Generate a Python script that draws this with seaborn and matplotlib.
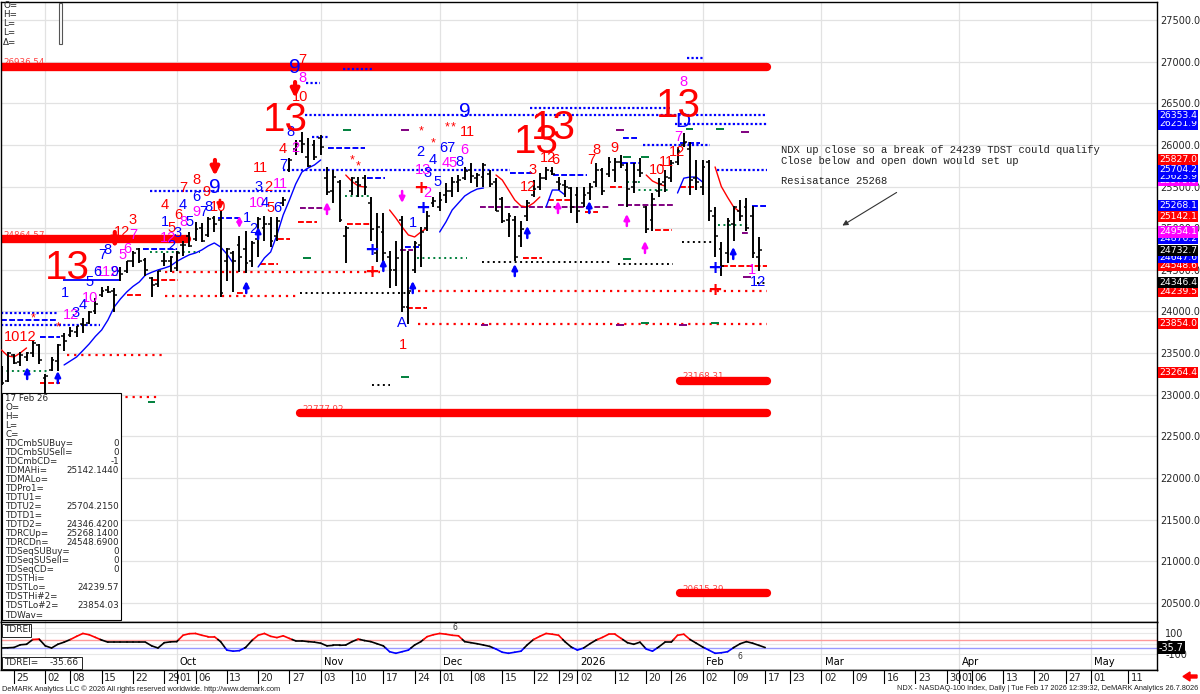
import numpy as np
import pandas as pd
import matplotlib
matplotlib.use('Agg')
import matplotlib.pyplot as plt
import matplotlib.transforms as mtransforms
from matplotlib.patches import Rectangle, FancyArrow
from matplotlib.collections import LineCollection
import seaborn as sns

sns.set_style('white')
plt.rcParams['font.family'] = ['DejaVu Sans']

RED, BLUE, MAG, PUR, GRN = '#ff0000', '#0000ff', '#ff00ff', '#800080', '#00803c'
CNT = ['Liberation Sans', 'DejaVu Sans']

# ---------------- data ----------------
holidays = ['2025-09-01', '2025-11-27', '2025-12-25', '2026-01-01',
            '2026-01-19', '2026-02-16', '2026-04-03']
cal = pd.bdate_range('2025-08-21', '2026-05-15', freq='C', holidays=holidays)

highs = [23350, 23510, 23490, 23510, 23510, 23650, 23610, 23250, 23450, 23610,
         23740, 23810, 23830, 23920, 24010, 24160, 24290, 24310, 24280, 24530,
         24610, 24730, 24760, 24640, 24410, 24490, 24700, 24670, 24730, 24850,
         24950, 25070, 25060, 25130, 25150, 25210, 24760, 24730, 24910, 24970,
         24850, 25130, 25150, 25130, 25130, 25370, 25840, 26060, 26150, 26080,
         26060, 26120, 25730, 25700, 25580, 25030, 25610, 25610, 25640, 25370,
         25180, 25180, 24730, 24850, 25150, 24730, 24850, 25010, 25210, 25370,
         25430, 25540, 25610, 25640, 25730, 25780, 25660, 25780, 25700, 25600,
         25370, 25180, 25150, 25090, 25340, 25580, 25660, 25730, 25730, 25610,
         25580, 25490, 25490, 25490, 25540, 25780, 25720, 25850, 25840, 25880,
         25780, 25780, 25840, 25270, 25420, 25600, 25700, 25820, 25970, 26140,
         26030, 25820, 25820, 25820, 25250, 24830, 25120, 25270, 25340, 25360,
         25270, 24890]
lows = [23120, 23150, 23370, 23350, 23410, 23450, 23370, 23010, 23290, 23290,
        23530, 23690, 23690, 23740, 23850, 23970, 24170, 24220, 23990, 24370,
        24460, 24530, 24580, 24430, 24170, 24290, 24550, 24470, 24490, 24670,
        24770, 24850, 24830, 24890, 24950, 24170, 24370, 24230, 24470, 24460,
        24530, 24650, 24850, 24770, 24850, 25270, 25670, 25880, 25900, 25730,
        25820, 25880, 25400, 25300, 25070, 24580, 25400, 25370, 25400, 24850,
        24590, 24530, 24280, 24310, 23990, 23850, 24460, 24530, 24970, 25250,
        25210, 25300, 25370, 25430, 25580, 25540, 25490, 25490, 25490, 25210,
        25060, 24890, 24610, 24770, 25090, 25370, 25460, 25580, 25640, 25460,
        25370, 25180, 25060, 25250, 25340, 25490, 25400, 25610, 25550, 25720,
        25250, 25420, 25610, 24940, 24970, 25370, 25430, 25550, 25760, 25970,
        25400, 25460, 25400, 25090, 24650, 24430, 24580, 24850, 25090, 24970,
        24640, 24490]
opens = [23300, 23160, 23480, 23390, 23450, 23500, 23600, 23200, 23300, 23400,
         23700, 23720, 23750, 23850, 23860, 24000, 24200, 24260, 24250, 24480,
         24480, 24600, 24750, 24620, 24400, 24330, 24600, 24600, 24520, 24800,
         24900, 24870, 25000, 24920, 25120, 25100, 24600, 24700, 24800, 24750,
         24600, 24870, 25000, 25050, 24900, 25300, 25700, 25950, 26050, 25850,
         26000, 26080, 25600, 25450, 25550, 24900, 25450, 25550, 25600, 25300,
         24700, 24950, 24650, 24500, 25100, 24050, 24500, 24800, 25000, 25300,
         25250, 25400, 25450, 25550, 25600, 25700, 25600, 25620, 25650, 25550,
         25350, 25100, 25100, 24900, 25150, 25400, 25500, 25600, 25690, 25560,
         25520, 25480, 25400, 25300, 25420, 25550, 25700, 25650, 25700, 25800,
         25700, 25500, 25700, 25250, 25100, 25450, 25550, 25600, 25800, 26000,
         25950, 25600, 25500, 25800, 25150, 24750, 24700, 25050, 25200, 25250,
         25150, 24650]
closes = [23140, 23500, 23380, 23480, 23500, 23620, 23420, 23230, 23420, 23600,
          23650, 23760, 23820, 23840, 23990, 24090, 24240, 24230, 24200, 24450,
          24600, 24700, 24610, 24500, 24320, 24480, 24610, 24650, 24700, 24800,
          24790, 24990, 24850, 25110, 25050, 24220, 24750, 24600, 24650, 24580,
          24820, 25110, 25050, 24850, 25080, 25340, 25820, 26010, 26010, 25750,
          25860, 25970, 25440, 25620, 25100, 25000, 25600, 25520, 25500, 24990,
          25010, 24700, 24500, 24640, 24050, 24240, 24820, 24950, 25150, 25330,
          25340, 25450, 25560, 25580, 25690, 25630, 25640, 25760, 25530, 25200,
          25080, 25140, 24650, 24990, 25300, 25470, 25600, 25700, 25650, 25530,
          25500, 25250, 25200, 25400, 25500, 25700, 25450, 25790, 25800, 25760,
          25470, 25550, 25660, 24990, 25350, 25530, 25620, 25780, 25930, 26030,
          25580, 25550, 25740, 25200, 24900, 24550, 25080, 25250, 25150, 25000,
          24700, 24733]
tdrei = [-40, -38, -35, -10, -5, 40, 44, -20, -40, -5,
         15, 40, 70, 97, 85, 60, 35, 15, 15, 15,
         15, 15, 15, 15, -20, -40, 10, 18, 20, 80,
         95, 97, 80, 67, 67, 20, -60, -70, -65, -35,
         30, 80, 97, 70, 58, 75, 50, 27, 27, 20,
         15, 5, -20, -15, -15, -12, 20, 44, 30, 20,
         0, -20, -75, -90, -75, -60, -12, 20, 67, 85,
         97, 90, 80, 75, 20, 10, 0, -12, -25, -50,
         -80, -90, -80, -70, -10, 40, 70, 97, 90, 80,
         20, -30, -60, -40, 0, 35, 60, 90, 90, 50,
         10, -5, 15, -50, -70, -30, 15, 15, 80, 90,
         40, 5, -30, -60, -90, -85, -75, -35, 0, 20,
         5, -15, -35.66]

# moving-average style curves: (start bar, values, colour)
ma_curves = [
    (10, [23357, 23405, 23453, 23530, 23609, 23700, 23777, 23897, 24053, 24150,
          24233, 24300, 24353, 24437, 24470, 24498, 24520, 24546, 24600, 24642,
          24680, 24702, 24738, 24786, 24822, 24774, 24690, 24582], BLUE),
    (41, [24534, 24642, 24714, 24918, 25158, 25338, 25530, 25675, 25723, 25759, 25819], BLUE),
    (70, [24954, 25074, 25218, 25302, 25386, 25434, 25470, 25482], BLUE),
    (87, [25254, 25458, 25458, 25400], BLUE),
    (108, [25422, 25600, 25614, 25614, 25554], BLUE),
    (0, [23537, 23465, 23453, 23501, 23561], RED),
    (55, [25638, 25560, 25506, 25494], RED),
    (62, [25218, 25122, 25014, 24918, 24894, 24954, 25002], RED),
    (79, [25638, 25578, 25458, 25338, 25266, 25254, 25302, 25374], RED),
    (103, [25638, 25566, 25530, 25506], RED),
    (114, [25735, 25500, 25370, 25250, 25194], RED),
]

# thick TDST-style levels: (price, from bar, to bar)
thick_levels = [(26936.54, -0.1, 122.3), (24864.57, -0.1, 29.6), (23168.31, 108.4, 122.3),
                (22777.92, 47.7, 122.3), (20615.39, 108.4, 122.3)]

# horizontal level segments: (from bar, to bar, price, style)
levels = [
    (48.5, 122.3, 26353.4, 'bdot'), (107.6, 122.3, 26251.9, 'bdot'), (84.4, 106.8, 26443, 'bdot'),
    (45.0, 81.2, 25704.2, 'bdot'), (114.3, 122.3, 25704.2, 'bdot'), (23.7, 46.1, 25446, 'bdot'),
    (-0.1, 9.0, 23981, 'bdot'), (-0.1, 15.7, 23837, 'bdot'), (49.6, 52.2, 26095, 'bdot'),
    (102.5, 113.2, 25999, 'bdot'), (48.6, 50.9, 26743, 'bdot'), (54.6, 59.3, 26911, 'bdot'),
    (109.5, 112.1, 27044, 'bdot'),
    (-0.1, 9.0, 23897, 'bdash'), (34.6, 38.1, 25122, 'bdash'), (52.2, 58.1, 25963, 'bdash'),
    (58.4, 61.3, 25603, 'bdash'), (6.2, 9.3, 23693, 'bdash'), (22.6, 28.0, 24750, 'bdash'),
    (64.5, 66.9, 24774, 'bdash'), (81.2, 84.9, 25663, 'bdash'), (88.1, 93.5, 25639, 'bdash'),
    (99.1, 102.0, 25783, 'bdash'), (99.3, 101.5, 26083, 'bdash'), (108.4, 111.6, 26023, 'bdash'),
    (119.9, 122.3, 25268.1, 'bdash'), (9.8, 19.0, 24377, 'bsolid'),
    (66.5, 122.3, 24239.5, 'rdot'), (66.5, 122.3, 23854.0, 'rdot'), (26.1, 47.7, 24185, 'rdot'),
    (26.1, 60.5, 24473, 'rdot'), (10.5, 26.1, 23477, 'rdot'), (15.3, 25.3, 22972, 'rdot'),
    (6.2, 9.3, 23141, 'rdash'), (20.1, 22.6, 24197, 'rdash'), (24.2, 28.2, 24378, 'rdash'),
    (47.4, 50.4, 25074, 'rdash'), (55.2, 59.2, 25050, 'rdash'), (41.3, 44.2, 24570, 'rdash'),
    (44.2, 46.1, 24870, 'rdash'), (37.6, 39.2, 24221, 'rdash'), (83.3, 86.3, 24642, 'rdash'),
    (87.3, 91.1, 25338, 'rdash'), (93.2, 95.3, 25194, 'rdash'), (104.4, 107.1, 24978, 'rdash'),
    (97.2, 99.1, 25494, 'rdash'), (108.4, 111.1, 25494, 'rdash'), (115.1, 122.3, 24548.6, 'rdash'),
    (64.8, 68.0, 24041, 'rdash'),
    (47.7, 65.3, 24221, 'kdot'), (76.8, 97.2, 24594, 'kdot'), (98.5, 107.3, 24570, 'kdot'),
    (108.7, 114.0, 24834, 'kdot'), (59.2, 62.1, 23116, 'kdot'), (120.7, 122.3, 24346.4, 'kdot'),
    (23.7, 31.7, 24714, 'gdot'), (66.4, 74.4, 24642, 'gdot'), (54.9, 59.2, 25386, 'gdot'),
    (-0.1, 7.8, 23284, 'gdot'), (114.5, 119.6, 25038, 'gdot'), (100.9, 106.8, 25458, 'gdot'),
    (99.9, 102.0, 25554, 'gdot'),
    (47.7, 51.4, 25242, 'pdash'), (76.4, 97.2, 25254, 'pdash'), (98.5, 107.3, 25278, 'pdash'),
    (63.7, 65.7, 24738, 'pdash'), (118.3, 119.3, 24942, 'pdash'),
]
green_ticks = [(48.8, 24642), (55.2, 26179), (99.9, 24630), (102.8, 25855), (99.9, 25855),
               (109.9, 26195), (114.8, 26195), (102.8, 23861), (114.0, 23861), (24.0, 22912),
               (64.5, 23212)]
purple_ticks = [(119.1, 24414), (64.5, 26179), (98.8, 26179), (118.8, 26155), (77.2, 23837),
                (98.8, 23837), (108.9, 23837)]

# TD count labels: (bar, price, text)
red_counts = [(3.0, 23693, '1012'), (19.25, 24954, '12'), (21.0, 25098, '3'), (26.0, 25278, '4'),
              (29.0, 25482, '7'), (31.1, 25578, '8'), (32.8, 25434, '9'), (34.6, 25254, '10'),
              (27.1, 25002, '5'), (28.2, 25158, '6'), (41.3, 25723, '11'), (42.6, 25494, '2'),
              (42.9, 25242, '5'), (45.0, 25951, '4'), (48.0, 27020, '7'), (47.7, 26575, '10'),
              (64.1, 23597, '1'), (74.4, 26155, '11'), (84.1, 25494, '12'), (84.9, 25699, '3'),
              (87.3, 25843, '12'), (88.4, 25819, '6'), (94.3, 25818, '7'), (95.1, 25939, '8'),
              (98.0, 25963, '9'), (104.7, 25699, '10'), (106.3, 25795, '11'), (107.9, 25915, '12')]
blue_counts = [(10.1, 24221, '1'), (11.9, 23981, '3'), (13.0, 24077, '4'), (14.0, 24354, '5'),
               (15.3, 24474, '6'), (16.1, 24678, '7'), (17.0, 24738, '8'), (18.1, 24474, '9'),
               (26.1, 25074, '1'), (27.2, 24786, '2'), (28.2, 24942, '3'), (29.0, 25278, '4'),
               (30.1, 25074, '5'), (31.2, 25374, '6'), (32.2, 25194, '7'), (33.0, 25254, '8'),
               (39.2, 25122, '1'), (40.2, 24990, '2'), (41.0, 25494, '3'), (42.1, 25302, '4'),
               (44.0, 25242, '6'), (45.0, 25759, '7'), (46.1, 26155, '8'), (65.7, 25062, '1'),
               (64.0, 23861, 'A'), (66.9, 25915, '2'), (68.1, 25663, '3'), (68.9, 25819, '4'),
               (69.7, 25554, '5'), (71.2, 25963, '67'), (73.1, 25795, '8'), (120.9, 24353, '12')]
blue_big = [(34.1, 25494, '9'), (46.9, 26924, '9'), (74.0, 26395, '9'), (108.9, 26275, 'D')]
magenta_counts = [(11.1, 23957, '12'), (14.1, 24161, '10'), (16.9, 24474, '112'), (19.3, 24678, '5'),
                  (20.1, 24750, '6'), (21.0, 24918, '7'), (26.6, 24882, '12'), (29.0, 25074, '8'),
                  (31.2, 25194, '9'), (40.8, 25302, '10'), (44.5, 25530, '11'), (46.9, 25963, '2'),
                  (48.0, 26803, '8'), (67.3, 25699, '13'), (68.0, 25422, '2'), (71.6, 25783, '45'),
                  (74.0, 25939, '6'), (108.9, 26755, '8'), (108.1, 26095, '7'), (119.9, 24498, '1')]
big_13 = [(10.5, 24520), (45.3, 26299), (85.4, 26035), (88.1, 26203), (108.2, 26467)]
stars = [(5.0, 23921), (9.0, 23813), (56.0, 25818), (57.0, 25746), (67.0, 26167),
         (68.9, 26023), (71.2, 26215), (72.2, 26215)]

blue_up = [(4.1, 23260), (9.0, 23212), (41.0, 24942), (39.1, 24293), (65.7, 24293),
           (84.0, 24954), (82.0, 24497), (93.9, 25254), (116.9, 24702), (61.0, 24558)]
magenta_up = [(52.0, 25242), (88.9, 25254), (99.9, 25098), (102.8, 24774)]
red_down = [(18.1, 24858), (34.1, 25723), (46.9, 26659)]
blue_plus = [(59.2, 24738), (67.2, 25242), (114.0, 24522)]
red_plus = [(59.2, 24474), (66.9, 25482), (114.0, 24257)]

right_boxes = [(26353.4, BLUE), (26251.9, BLUE), (25827.0, RED), (25704.2, BLUE), (25623.9, BLUE),
               (25575.0, MAG), (25268.1, BLUE), (25142.1, RED), (24954.1, MAG), (24876.2, BLUE),
               (24732.7, 'black'), (24647.6, BLUE), (24548.6, RED), (24346.4, 'black'),
               (24239.5, RED), (23854.0, RED), (23264.4, RED)]

tick_dates = ['2025-08-25', '2025-09-02', '2025-09-08', '2025-09-15', '2025-09-22', '2025-09-29',
              '2025-10-01', '2025-10-06', '2025-10-13', '2025-10-20', '2025-10-27', '2025-11-03',
              '2025-11-10', '2025-11-17', '2025-11-24', '2025-12-01', '2025-12-08', '2025-12-15',
              '2025-12-22', '2025-12-29', '2026-01-02', '2026-01-12', '2026-01-20', '2026-01-26',
              '2026-02-02', '2026-02-09', '2026-02-17', '2026-02-23', '2026-03-02', '2026-03-09',
              '2026-03-16', '2026-03-23', '2026-03-30', '2026-04-01', '2026-04-06', '2026-04-13',
              '2026-04-20', '2026-04-27', '2026-05-01', '2026-05-11']
month_starts = ['2025-09-02', '2025-10-01', '2025-11-03', '2025-12-01', '2026-01-02',
                '2026-02-02', '2026-03-02', '2026-04-01', '2026-05-01']
month_labels = ['', 'Oct', 'Nov', 'Dec', '2026', 'Feb', 'Mar', 'Apr', 'May']

info_rows = [('17 Feb 26', ''), ('O=', ''), ('H=', ''), ('L=', ''), ('C=', ''),
             ('TDCmbSUBuy=', '0'), ('TDCmbSUSell=', '0'), ('TDCmbCD=', '-1'),
             ('TDMAHi=', '25142.1440'), ('TDMALo=', ''), ('TDPro1=', ''), ('TDTU1=', ''),
             ('TDTU2=', '25704.2150'), ('TDTD1=', ''), ('TDTD2=', '24346.4200'),
             ('TDRCUp=', '25268.1400'), ('TDRCDn=', '24548.6900'), ('TDSeqSUBuy=', '0'),
             ('TDSeqSUSell=', '0'), ('TDSeqCD=', '0'), ('TDSTHi=', ''), ('TDSTLo=', '24239.57'),
             ('TDSTHi#2=', ''), ('TDSTLo#2=', '23854.03'), ('TDWav=', '')]

# ---------------- layout ----------------
W, H = 1200, 694
PX = 12.01  # price per pixel on the main panel


def rect(x0, y0, x1, y1):
    return [x0 / W, 1 - y1 / H, (x1 - x0) / W, (y1 - y0) / H]


fig = plt.figure(figsize=(12, 6.94), dpi=100)
ax = fig.add_axes(rect(1, 2, 1157, 621.7))
ax_r = fig.add_axes(rect(1, 621.7, 1157, 670))
ax_d = fig.add_axes(rect(1, 670, 1157, 684))
XL = (-0.08, 184.6)
ms_idx = [cal.get_loc(pd.Timestamp(d)) for d in month_starts]

# ---------------- main panel ----------------
ax.set_xlim(*XL)
ax.set_ylim(20273.6, 27716)
for a in (ax, ax_r, ax_d):
    for s in a.spines.values():
        s.set_color('black')
        s.set_linewidth(1.0)
ax.set_xticks([])
ax.yaxis.tick_right()
yt = np.arange(20500, 27501, 500)
ax.set_yticks(yt)
ax.set_yticklabels([f'{v:.1f}' for v in yt])
ax.tick_params(axis='y', length=0, pad=2, labelsize=7.0)
ax.hlines(yt, XL[0], XL[1], color='#e2e2e2', lw=0.9, zorder=0)
ax.vlines(ms_idx, 20273.6, 27716, color='#e2e2e2', lw=0.9, zorder=0)

# thick levels
for p, x0, x1 in thick_levels:
    ax.text(x0 + 0.35, p + 4 * PX, f'{p:.2f}', color='#ff4040', fontsize=6.3,
            va='center', ha='left', zorder=1)
    lc = ax.hlines(p, x0, x1, color=RED, lw=6, zorder=2)
    lc.set_capstyle('round')

styles = {
    'bdot': dict(color=BLUE, ls=(0, (1, 1.0)), lw=1.6),
    'bdash': dict(color=BLUE, ls=(0, (3, 1.2)), lw=1.4),
    'bsolid': dict(color=BLUE, ls='-', lw=1.3),
    'rdot': dict(color=RED, ls=(0, (1, 2.2)), lw=1.6),
    'rdash': dict(color=RED, ls=(0, (3, 1.2)), lw=1.4),
    'kdot': dict(color='black', ls=(0, (1, 1.8)), lw=1.4),
    'gdot': dict(color=GRN, ls=(0, (1, 1.8)), lw=1.4),
    'pdash': dict(color=PUR, ls=(0, (3, 1.2)), lw=1.4),
}
for x0, x1, p, st in levels:
    ax.hlines(p, x0, x1, zorder=2, **styles[st])
for x, p in green_ticks:
    ax.hlines(p, x - 0.6, x + 0.6, color=GRN, lw=1.4, zorder=2)
for x, p in purple_ticks:
    ax.hlines(p, x - 0.6, x + 0.6, color=PUR, lw=1.4, zorder=2)

# moving-average curves
for start, vals, col in ma_curves:
    sns.lineplot(x=list(range(start, start + len(vals))), y=vals, ax=ax,
                 color=col, linewidth=1.0, zorder=3)

# OHLC bars
bars = list(range(len(highs)))
ax.vlines(bars, lows, highs, color='black', lw=1.4, zorder=4)
ax.hlines(opens, np.array(bars) - 0.45, bars, color='black', lw=1.1, zorder=4)
ax.hlines(closes, bars, np.array(bars) + 0.45, color='black', lw=1.1, zorder=4)


def lab(x, p, s, col, size=10.5):
    ax.text(x, p, s, color=col, fontsize=size, ha='center', va='center',
            family=CNT, zorder=6)


for x, p, s in red_counts:
    lab(x, p, s, RED)
for x, p, s in magenta_counts:
    lab(x, p, s, MAG)
for x, p, s in blue_counts:
    lab(x, p, s, BLUE)
for x, p, s in blue_big:
    lab(x, p, s, BLUE, 15)
for x, p in big_13:
    lab(x, p, '13', RED, 29)
for x, p in stars:
    lab(x, p, '*', RED, 9)
for x, p in blue_plus:
    ax.text(x, p, '+', color=BLUE, fontsize=13, fontweight='bold', ha='center', va='center', zorder=6)
for x, p in red_plus:
    ax.text(x, p, '+', color=RED, fontsize=13, fontweight='bold', ha='center', va='center', zorder=6)


def varrow(x, p, up, col, length=12, lw=1.8, ms=8, style='-|>'):
    half = length * PX / 2
    a, b = (p - half, p + half) if up else (p + half, p - half)
    ax.annotate('', xy=(x, b), xytext=(x, a),
                arrowprops=dict(arrowstyle=style, color=col, lw=lw, mutation_scale=ms,
                                shrinkA=0, shrinkB=0), zorder=6)


for x, p in blue_up:
    varrow(x, p, True, BLUE)
for x, p in magenta_up:
    varrow(x, p, True, MAG)
for x, p in red_down:
    varrow(x, p, False, RED, length=16, lw=3, ms=12)
varrow(34.9, 25278, False, RED, length=10, lw=2, ms=8)
varrow(38.0, 25074, True, MAG, length=12, lw=1.5, ms=7, style='<|-|>')
varrow(64.0, 25374, False, MAG, length=12)

# right axis coloured value boxes
trans = mtransforms.blended_transform_factory(ax.transAxes, ax.transData)
for p, col in sorted(right_boxes):
    ax.text(1.0 + 2.0 / 1156, p, f'{p:.1f}', transform=trans, color='white', fontsize=6.7,
            ha='left', va='center', zorder=8,
            bbox=dict(boxstyle='square,pad=0.12', fc=col, ec='none'))

# ---------------- TDREI panel ----------------
ax_r.set_xlim(*XL)
ax_r.set_ylim(-247.6, 208)
ax_r.set_xticks([])
ax_r.yaxis.tick_right()
ax_r.set_yticks([100, 0, -100])
ax_r.set_yticklabels(['100', '0', '-100'])
ax_r.tick_params(axis='y', length=0, pad=6, labelsize=7.0)
ax_r.hlines([150, 100, 0, -100], XL[0], XL[1], color='#e8e8e8', lw=0.8, zorder=0)
ax_r.hlines(40, XL[0], XL[1], color='#ff9a9a', lw=1.0, zorder=1)
ax_r.hlines(-40, XL[0], XL[1], color='#9a9aff', lw=1.0, zorder=1)
ax_r.vlines(ms_idx, -247.6, 208, color='#e2e2e2', lw=0.9, zorder=0)

segs, cols = [], []
for i in range(len(tdrei) - 1):
    v0, v1 = tdrei[i], tdrei[i + 1]
    cuts = [0.0, 1.0]
    for th in (40, -40):
        if (v0 - th) * (v1 - th) < 0:
            cuts.append((th - v0) / (v1 - v0))
    cuts.sort()
    for a, b in zip(cuts[:-1], cuts[1:]):
        vm = v0 + (v1 - v0) * (a + b) / 2
        cols.append(RED if vm > 40 else (BLUE if vm < -40 else 'black'))
        segs.append([(i + a, v0 + (v1 - v0) * a), (i + b, v0 + (v1 - v0) * b)])
ax_r.add_collection(LineCollection(segs, colors=cols, linewidths=1.2, zorder=3,
                                   capstyle='round'))
ax_r.text(72.4, 150, '6', fontsize=5.5, ha='center', va='center', color='#333')
ax_r.text(118.0, -116, '6', fontsize=5.5, ha='center', va='center', color='#333')
for idx, m in zip(ms_idx, month_labels):
    if m:
        ax_r.text(idx + 0.5, -172, m, fontsize=7.2, ha='left', va='center', color='black')
trans_r = mtransforms.blended_transform_factory(ax_r.transAxes, ax_r.transData)
ax_r.text(1.0 + 2.0 / 1156, tdrei[-1], f'{tdrei[-1]:.1f}', transform=trans_r, color='white',
          fontsize=6.9, ha='left', va='center', zorder=8,
          bbox=dict(boxstyle='square,pad=0.12', fc='black', ec='none'))

# ---------------- date row ----------------
ax_d.set_xlim(*XL)
ax_d.set_ylim(0, 1)
ax_d.set_xticks([])
ax_d.set_yticks([])
ax_d.spines['left'].set_visible(False)
ax_d.spines['right'].set_visible(False)
ax_d.spines['bottom'].set_visible(False)
tix = [cal.get_loc(pd.Timestamp(d)) for d in tick_dates]
ax_d.vlines(tix, 0, 1, color='black', lw=0.8)
for t, d in zip(tix, tick_dates):
    ax_d.text(t + 0.4, 0.45, d[-2:], fontsize=7.2, ha='left', va='center')

# ---------------- overlay (panels, notes, footer) ----------------
ax_o = fig.add_axes([0, 0, 1, 1])
ax_o.set_xlim(0, W)
ax_o.set_ylim(H, 0)
ax_o.axis('off')
ax_o.patch.set_alpha(0)

for k, s in enumerate(['O=', 'H=', 'L=', 'L=', 'Δ=']):
    ax_o.text(3, 5 + k * 9.3, s, fontsize=6.3, va='center', ha='left')
ax_o.add_patch(Rectangle((59, 3), 3, 41, fc='white', ec='#555555', lw=0.8))

ax_o.add_patch(Rectangle((2, 393), 119, 227, fc='white', ec='black', lw=0.8, zorder=5))
for k, (name, val) in enumerate(info_rows):
    y = 398.3 + k * 9.03
    ax_o.text(5, y, name, fontsize=6.3, va='center', ha='left', zorder=6)
    if val:
        ax_o.text(119, y, val, fontsize=6.3, va='center', ha='right', zorder=6)

ax_o.add_patch(Rectangle((1.5, 623.5), 29, 13, fc='white', ec='black', lw=0.6, zorder=5))
ax_o.text(4, 630, 'TDREI', fontsize=6.5, va='center', ha='left', zorder=6)
ax_o.add_patch(Rectangle((1.5, 656.5), 80, 12, fc='white', ec='black', lw=0.6, zorder=5))
ax_o.text(4, 662.5, 'TDREI=', fontsize=6.5, va='center', ha='left', zorder=6)
ax_o.text(79, 662.5, f'{tdrei[-1]:.2f}', fontsize=6.5, va='center', ha='right', zorder=6)

mono = ['Liberation Mono', 'DejaVu Sans Mono']
ax_o.text(781, 150, 'NDX up close so a break of 24239 TDST could qualify', family=mono,
          fontsize=7.6, va='center', ha='left', color='#222222')
ax_o.text(781, 160.5, 'Close below and open down would set up', family=mono,
          fontsize=7.6, va='center', ha='left', color='#222222')
ax_o.text(781, 181, 'Resisatance 25268', family=mono,
          fontsize=7.6, va='center', ha='left', color='#222222')
ax_o.annotate('', xy=(840, 227), xytext=(899, 191),
              arrowprops=dict(arrowstyle='-|>', color='#333333', lw=0.8, mutation_scale=8))

ax_o.add_patch(FancyArrow(1197, 676.5, -14, 0, width=3, head_width=9, head_length=7,
                          color=RED, length_includes_head=True))

foot = ['Liberation Sans Narrow', 'Liberation Sans', 'DejaVu Sans']
ax_o.text(2, 689, 'DeMARK Analytics LLC © 2026 All rights reserved worldwide. http://www.demark.com',
          family=foot, fontsize=5.3, va='center', ha='left', color='#222222')
ax_o.text(1198, 689, 'NDX - NASDAQ-100 Index, Daily | Tue Feb 17 2026 12:39:32, DeMARK Analytics 26.7.8026',
          family=foot, fontsize=5.3, va='center', ha='right', color='#222222')

fig.savefig('out.png', dpi=100, facecolor='white')
